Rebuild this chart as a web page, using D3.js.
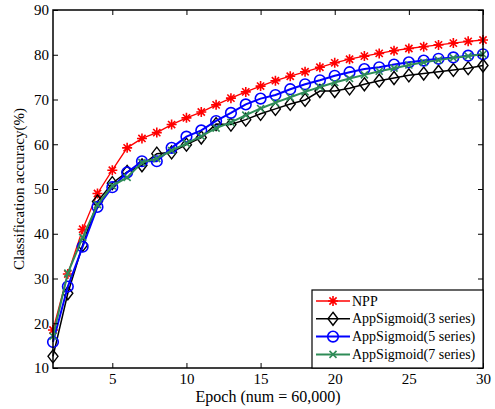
<!DOCTYPE html>
<html>
<head>
<meta charset="utf-8">
<script src="https://cdn.jsdelivr.net/npm/d3@7"></script>
<style>
  body { margin: 0; background: #fff; }
  text { font-family: "Liberation Serif", "Times New Roman", serif; fill: #000; }
</style>
</head>
<body>
<div id="chart"></div>
<script>
const epochs = d3.range(1, 31);
const xTicks = [5, 10, 15, 20, 25, 30];
const yTicks = [10, 20, 30, 40, 50, 60, 70, 80, 90];

const npp = [18.5, 31.0, 41.0, 49.0, 54.2, 59.2, 61.3, 62.6, 64.4, 65.9,
             67.2, 68.8, 70.3, 71.7, 73.0, 74.2, 75.2, 76.2, 77.2, 78.2,
             79.0, 79.7, 80.3, 80.9, 81.4, 81.8, 82.2, 82.6, 83.0, 83.3];
const sig3 = [12.6, 26.7, 37.5, 47.2, 51.3, 53.8, 55.3, 57.9, 58.2, 59.9,
              61.5, 64.5, 64.4, 65.5, 66.8, 67.9, 69.0, 69.9, 71.9, 71.9,
              72.5, 73.4, 74.2, 74.8, 75.4, 75.8, 76.2, 76.6, 77.0, 77.6];
const sig5 = [15.8, 28.2, 37.1, 46.0, 50.4, 53.7, 56.2, 56.2, 59.2, 61.7,
              63.1, 65.2, 67.0, 68.9, 70.2, 71.0, 72.3, 73.4, 74.3, 75.3,
              76.1, 76.8, 77.2, 77.8, 78.3, 78.7, 79.1, 79.4, 79.8, 80.1];
const sig7 = [17.1, 31.2, 39.2, 46.5, 50.7, 52.6, 55.9, 56.8, 58.6, 60.2,
              61.8, 63.6, 64.9, 66.5, 68.0, 69.3, 70.5, 71.7, 72.8, 73.8,
              74.7, 75.5, 76.3, 77.0, 77.7, 78.3, 78.8, 79.3, 79.7, 80.1];

const seriesNames = ["NPP", "AppSigmoid(3 series)", "AppSigmoid(5 series)", "AppSigmoid(7 series)"];

const width = 495, height = 409;
const margin = {top: 10, right: 12, bottom: 41, left: 53};

const svg = d3.select("#chart").append("svg")
  .attr("width", width).attr("height", height);

const x = d3.scaleLinear().domain([1, 30]).range([margin.left, width - margin.right]);
const y = d3.scaleLinear().domain([10, 90]).range([height - margin.bottom, margin.top]);

const series = [
  {name: seriesNames[0], values: npp,  color: "#ff0000", width: 1.3, marker: "star"},
  {name: seriesNames[1], values: sig3, color: "#000000", width: 1.5, marker: "diamond"},
  {name: seriesNames[2], values: sig5, color: "#0000ff", width: 2,   marker: "circle"},
  {name: seriesNames[3], values: sig7, color: "#2e8b57", width: 2,   marker: "cross"}
];

function drawMarker(g, type, color) {
  if (type === "star") {
    g.append("path")
      .attr("d", "M-5,0H5M0,-5V5M-3.6,-3.6L3.6,3.6M-3.6,3.6L3.6,-3.6")
      .attr("stroke", color).attr("stroke-width", 1.6).attr("fill", "none");
  } else if (type === "diamond") {
    g.append("path").attr("d", "M0,-6.5L5,0L0,6.5L-5,0Z")
      .attr("stroke", color).attr("stroke-width", 1.4).attr("fill", "none");
  } else if (type === "circle") {
    g.append("circle").attr("r", 5.3)
      .attr("stroke", color).attr("stroke-width", 1.6).attr("fill", "none");
  } else {
    g.append("path").attr("d", "M-3.5,-3.5L3.5,3.5M-3.5,3.5L3.5,-3.5")
      .attr("stroke", color).attr("stroke-width", 1.6).attr("fill", "none");
  }
}

const line = d3.line().x((d, i) => x(epochs[i])).y(d => y(d));

series.forEach(s => {
  const g = svg.append("g");
  g.append("path").datum(s.values)
    .attr("d", line).attr("fill", "none")
    .attr("stroke", s.color).attr("stroke-width", s.width);
  s.values.forEach((v, i) => {
    const m = g.append("g").attr("transform", `translate(${x(epochs[i])},${y(v)})`);
    drawMarker(m, s.marker, s.color);
  });
});

// axes, ticks inside on all four sides
const x0 = margin.left, x1 = width - margin.right;
const y0 = height - margin.bottom, y1 = margin.top;

const xAxis = svg.append("g").attr("transform", `translate(0,${y0})`)
  .call(d3.axisBottom(x).tickValues(xTicks).tickSizeInner(-5).tickSizeOuter(0).tickPadding(5));
const yAxis = svg.append("g").attr("transform", `translate(${x0},0)`)
  .call(d3.axisLeft(y).tickValues(yTicks).tickSizeInner(-5).tickSizeOuter(0).tickPadding(4));
svg.append("g").attr("transform", `translate(0,${y1})`)
  .call(d3.axisTop(x).tickValues(xTicks).tickSizeInner(-5).tickSizeOuter(0).tickFormat(""));
svg.append("g").attr("transform", `translate(${x1},0)`)
  .call(d3.axisRight(y).tickValues(yTicks).tickSizeInner(-5).tickSizeOuter(0).tickFormat(""));

svg.selectAll(".domain").remove();
svg.selectAll(".tick line").attr("stroke", "#000").attr("stroke-width", 1);
[xAxis, yAxis].forEach(a => a.selectAll("text")
  .style("font-family", "'Liberation Serif', serif").style("font-size", "15px").attr("fill", "#000"));

svg.append("rect").attr("x", x0).attr("y", y1)
  .attr("width", x1 - x0).attr("height", y0 - y1)
  .attr("fill", "none").attr("stroke", "#000").attr("stroke-width", 1.5);

svg.append("text").attr("x", (x0 + x1) / 2).attr("y", 402)
  .attr("text-anchor", "middle").style("font-size", "16px")
  .text("Epoch (num = 60,000)");
svg.append("text")
  .attr("transform", `translate(24,${(y0 + y1) / 2}) rotate(-90)`)
  .attr("text-anchor", "middle").style("font-size", "15px")
  .text("Classification accuracy(%)");

// legend
const lg = svg.append("g");
const lx = 312, ly = 290;
lg.append("rect").attr("x", lx).attr("y", ly)
  .attr("width", x1 - lx).attr("height", y0 - ly)
  .attr("fill", "#fff").attr("stroke", "#000").attr("stroke-width", 1.2);
series.forEach((s, i) => {
  const ry = ly + 11 + i * 17.8;
  lg.append("line").attr("x1", lx + 4).attr("x2", lx + 38)
    .attr("y1", ry).attr("y2", ry)
    .attr("stroke", s.color).attr("stroke-width", s.width);
  const m = lg.append("g").attr("transform", `translate(${lx + 21},${ry})`);
  drawMarker(m, s.marker, s.color);
  lg.append("text").attr("x", lx + 40).attr("y", ry + 4.5)
    .style("font-size", "14px").text(s.name);
});
</script>
</body>
</html>
